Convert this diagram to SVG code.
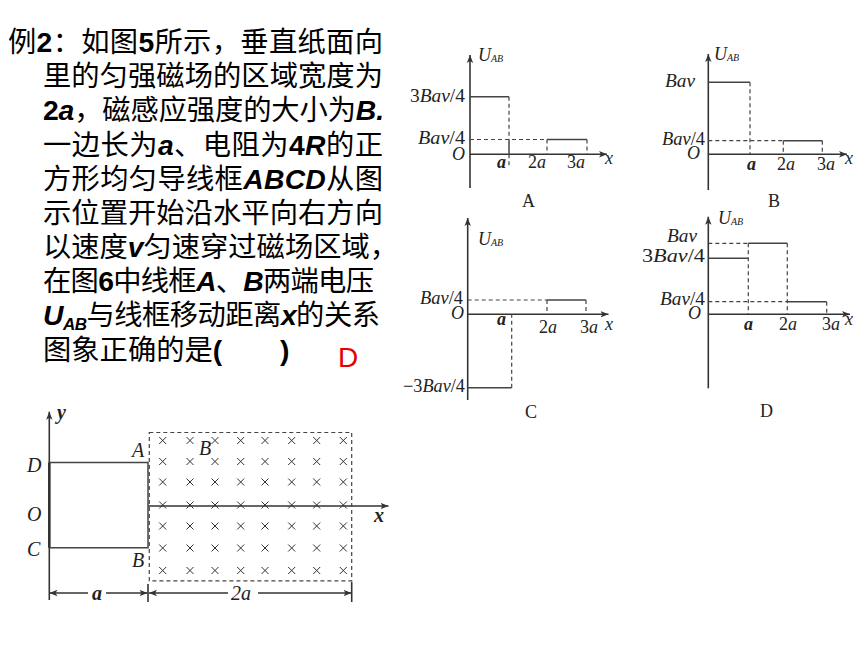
<svg xmlns="http://www.w3.org/2000/svg" xmlns:xlink="http://www.w3.org/1999/xlink" width="860" height="645" viewBox="0 0 860 645">
<style>
.t{font-family:"Noto Sans CJK SC","Liberation Sans",sans-serif;font-size:28.3px;fill:#000}
.l{font-family:"Liberation Sans",sans-serif;font-weight:bold}
.li{font-family:"Liberation Sans",sans-serif;font-weight:bold;font-style:italic}
.ax{stroke:#333;stroke-width:1.6;fill:none}
.so{stroke:#444;stroke-width:1.5;fill:none}
.da{stroke:#444;stroke-width:1.2;fill:none;stroke-dasharray:4 3}
.lb{font-family:"Liberation Serif",serif;font-size:18px;fill:#222}
.it{font-style:italic}
.sub{font-size:10px;font-style:italic}
.cap{font-family:"Liberation Serif",serif;font-size:18px;fill:#222}
.fl{font-family:"Liberation Serif",serif;font-size:20px;font-style:italic;fill:#222}
.cr{stroke:#333;stroke-width:1;fill:none}
</style>
<defs>
<marker id="ah" viewBox="0 0 10 10" refX="10" refY="5" markerWidth="8" markerHeight="8" markerUnits="userSpaceOnUse" orient="auto-start-reverse"><path d="M0,1 L10,5 L0,9 L2.5,5 z" fill="#333"/></marker>
<path id="cr" class="cr" d="M-3.5,-3.5L3.5,3.5M-3.5,3.5L3.5,-3.5"/>
</defs>
<rect width="860" height="645" fill="#fff"/>

<g id="question">
<text class="t" x="8" y="52" textLength="375">例<tspan class="l">2</tspan>：如图<tspan class="l">5</tspan>所示，垂直纸面向</text>
<text class="t" x="43" y="86" textLength="340">里的匀强磁场的区域宽度为</text>
<text class="t" x="43" y="120" textLength="341"><tspan class="l">2</tspan><tspan class="li">a</tspan>，磁感应强度的大小为<tspan class="li">B.</tspan></text>
<text class="t" x="43" y="155" textLength="340">一边长为<tspan class="li">a</tspan>、电阻为<tspan class="l">4</tspan><tspan class="li">R</tspan>的正</text>
<text class="t" x="43" y="189" textLength="340">方形均匀导线框<tspan class="li">ABCD</tspan>从图</text>
<text class="t" x="43" y="223" textLength="340">示位置开始沿水平向右方向</text>
<text class="t" x="43" y="257" textLength="355">以速度<tspan class="li">v</tspan>匀速穿过磁场区域，</text>
<text class="t" x="43" y="291" textLength="331">在图<tspan class="l">6</tspan>中线框<tspan class="li">A</tspan>、<tspan class="li">B</tspan>两端电压</text>
<text class="t" x="43" y="325" textLength="337"><tspan class="li">U</tspan><tspan class="li" font-size="17" dy="5">AB</tspan><tspan dy="-5">与线框移动距离</tspan><tspan class="li">x</tspan>的关系</text>
<text class="t" x="43" y="360">图象正确的是<tspan class="l">(</tspan><tspan class="l" x="280">)</tspan></text>
<text x="338" y="367" font-family="Liberation Sans, sans-serif" font-size="28" fill="#e60000">D</text>
</g>

<g id="graph-A">
<line class="ax" x1="470" y1="188" x2="470" y2="55" marker-end="url(#ah)"/>
<line class="ax" x1="470" y1="154.3" x2="607" y2="154.3" marker-end="url(#ah)"/>
<line class="so" x1="470" y1="96.7" x2="509" y2="96.7"/>
<line class="da" x1="509" y1="96.7" x2="509" y2="139.5"/>
<line class="so" x1="509" y1="139.5" x2="509" y2="154.3"/>
<line class="da" x1="509" y1="154.3" x2="509" y2="168"/>
<line class="da" x1="470" y1="139.5" x2="547" y2="139.5"/>
<line class="so" x1="547" y1="139.5" x2="587" y2="139.5"/>
<line class="da" x1="547" y1="139.5" x2="547" y2="154.3"/>
<line class="da" x1="587" y1="139.5" x2="587" y2="154.3"/>
<text class="lb it" x="478" y="61" font-size="16">U<tspan class="sub" dy="1">AB</tspan></text>
<text class="lb" x="410" y="102" textLength="55" lengthAdjust="spacingAndGlyphs">3<tspan class="it">Bav</tspan>/4</text>
<text class="lb" x="418" y="144" textLength="47" lengthAdjust="spacingAndGlyphs"><tspan class="it">Bav</tspan>/4</text>
<text class="lb it" x="452" y="160">O</text>
<text class="lb it" x="497" y="168" font-weight="bold">a</text>
<text class="lb" x="528" y="168">2<tspan class="it">a</tspan></text>
<text class="lb" x="567" y="168">3<tspan class="it">a</tspan></text>
<text class="lb it" x="605" y="164">x</text>
<text class="cap" x="522" y="207">A</text>
</g>

<g id="graph-B">
<line class="ax" x1="708.3" y1="190" x2="708.3" y2="54" marker-end="url(#ah)"/>
<line class="ax" x1="708.3" y1="154.3" x2="847" y2="154.3" marker-end="url(#ah)"/>
<line class="so" x1="708.3" y1="82.3" x2="750" y2="82.3"/>
<line class="da" x1="750" y1="82.3" x2="750" y2="154.3"/>
<line class="da" x1="708.3" y1="140.7" x2="783.3" y2="140.7"/>
<line class="so" x1="783.3" y1="140.7" x2="822.3" y2="140.7"/>
<line class="da" x1="783.3" y1="140.7" x2="783.3" y2="154.3"/>
<line class="da" x1="822.3" y1="140.7" x2="822.3" y2="154.3"/>
<text class="lb it" x="714" y="60" font-size="16">U<tspan class="sub" dy="1">AB</tspan></text>
<text class="lb it" x="665" y="87" textLength="30" lengthAdjust="spacingAndGlyphs">Bav</text>
<text class="lb" x="662" y="145" textLength="43" lengthAdjust="spacingAndGlyphs"><tspan class="it">Bav</tspan>/4</text>
<text class="lb it" x="687" y="159">O</text>
<text class="lb it" x="747" y="170" font-weight="bold">a</text>
<text class="lb" x="777" y="170">2<tspan class="it">a</tspan></text>
<text class="lb" x="817" y="170">3<tspan class="it">a</tspan></text>
<text class="lb it" x="845" y="164">x</text>
<text class="cap" x="768" y="207">B</text>
</g>

<g id="graph-C">
<line class="ax" x1="467.7" y1="400" x2="467.7" y2="218" marker-end="url(#ah)"/>
<line class="ax" x1="467.7" y1="314.3" x2="608.5" y2="314.3" marker-end="url(#ah)"/>
<line class="so" x1="467.7" y1="387.7" x2="511.7" y2="387.7"/>
<line class="da" x1="511.7" y1="387.7" x2="511.7" y2="314.3"/>
<line class="da" x1="467.7" y1="300" x2="547" y2="300"/>
<line class="so" x1="547" y1="300" x2="586" y2="300"/>
<line class="da" x1="547" y1="300" x2="547" y2="314.3"/>
<line class="da" x1="586" y1="300" x2="586" y2="314.3"/>
<text class="lb it" x="478" y="245" font-size="16">U<tspan class="sub" dy="1">AB</tspan></text>
<text class="lb" x="420" y="304" textLength="43" lengthAdjust="spacingAndGlyphs"><tspan class="it">Bav</tspan>/4</text>
<text class="lb it" x="451" y="319">O</text>
<text class="lb it" x="497" y="325" font-weight="bold">a</text>
<text class="lb" x="539" y="333">2<tspan class="it">a</tspan></text>
<text class="lb" x="580" y="333">3<tspan class="it">a</tspan></text>
<text class="lb it" x="605" y="330">x</text>
<text class="lb" x="403" y="392" textLength="62" lengthAdjust="spacingAndGlyphs">−3<tspan class="it">Bav</tspan>/4</text>
<text class="cap" x="525" y="418">C</text>
</g>

<g id="graph-D">
<line class="ax" x1="708.3" y1="388.3" x2="708.3" y2="216.7" marker-end="url(#ah)"/>
<line class="ax" x1="708.3" y1="314.3" x2="850" y2="314.3" marker-end="url(#ah)"/>
<line class="so" x1="708.3" y1="258.3" x2="748.3" y2="258.3"/>
<line class="da" x1="708.3" y1="243.3" x2="748.3" y2="243.3"/>
<line class="so" x1="748.3" y1="243.3" x2="787.3" y2="243.3"/>
<line class="da" x1="748.3" y1="243.3" x2="748.3" y2="314.3"/>
<line class="da" x1="787.3" y1="243.3" x2="787.3" y2="314.3"/>
<line class="da" x1="708.3" y1="301.7" x2="787.3" y2="301.7"/>
<line class="so" x1="787.3" y1="301.7" x2="826.7" y2="301.7"/>
<line class="da" x1="826.7" y1="301.7" x2="826.7" y2="314.3"/>
<text class="lb it" x="718" y="224" font-size="16">U<tspan class="sub" dy="1">AB</tspan></text>
<text class="lb it" x="667" y="242" textLength="30" lengthAdjust="spacingAndGlyphs">Bav</text>
<text class="lb" x="642" y="262" textLength="63" lengthAdjust="spacingAndGlyphs">3<tspan class="it">Bav</tspan>/4</text>
<text class="lb" x="660" y="305" textLength="45" lengthAdjust="spacingAndGlyphs"><tspan class="it">Bav</tspan>/4</text>
<text class="lb it" x="688" y="319">O</text>
<text class="lb it" x="744" y="330" font-weight="bold">a</text>
<text class="lb" x="779" y="330">2<tspan class="it">a</tspan></text>
<text class="lb" x="822" y="330">3<tspan class="it">a</tspan></text>
<text class="lb it" x="845" y="325">x</text>
<text class="cap" x="760" y="417">D</text>
</g>

<g id="figure-5">
<line class="ax" x1="49.3" y1="600" x2="49.3" y2="411.7" marker-end="url(#ah)"/>
<line class="ax" x1="148" y1="506" x2="388.5" y2="506" marker-end="url(#ah)"/>
<rect class="da" x="149.3" y="432.5" width="202.4" height="148.3"/>
<g id="frame-ABCD">
<polyline class="so" points="49.3,462.5 148,462.5 148,547.7 49.3,547.7"/>
<line x1="49.3" y1="462.5" x2="49.3" y2="547.7" stroke="#333" stroke-width="2.6"/>
</g>
<g id="field">
<use xlink:href="#cr" x="162.7" y="440.5"/><use xlink:href="#cr" x="190" y="440.5"/><use xlink:href="#cr" x="215" y="440.5"/><use xlink:href="#cr" x="240.7" y="440.5"/><use xlink:href="#cr" x="265" y="440.5"/><use xlink:href="#cr" x="291.7" y="440.5"/><use xlink:href="#cr" x="316.7" y="440.5"/><use xlink:href="#cr" x="343.3" y="440.5"/>
<use xlink:href="#cr" x="162.7" y="461.5"/><use xlink:href="#cr" x="190" y="461.5"/><use xlink:href="#cr" x="215" y="461.5"/><use xlink:href="#cr" x="240.7" y="461.5"/><use xlink:href="#cr" x="265" y="461.5"/><use xlink:href="#cr" x="291.7" y="461.5"/><use xlink:href="#cr" x="316.7" y="461.5"/><use xlink:href="#cr" x="343.3" y="461.5"/>
<use xlink:href="#cr" x="162.7" y="482"/><use xlink:href="#cr" x="190" y="482"/><use xlink:href="#cr" x="215" y="482"/><use xlink:href="#cr" x="240.7" y="482"/><use xlink:href="#cr" x="265" y="482"/><use xlink:href="#cr" x="291.7" y="482"/><use xlink:href="#cr" x="316.7" y="482"/><use xlink:href="#cr" x="343.3" y="482"/>
<use xlink:href="#cr" x="162.7" y="505"/><use xlink:href="#cr" x="190" y="505"/><use xlink:href="#cr" x="215" y="505"/><use xlink:href="#cr" x="240.7" y="505"/><use xlink:href="#cr" x="265" y="505"/><use xlink:href="#cr" x="291.7" y="505"/><use xlink:href="#cr" x="316.7" y="505"/><use xlink:href="#cr" x="343.3" y="505"/>
<use xlink:href="#cr" x="162.7" y="526"/><use xlink:href="#cr" x="190" y="526"/><use xlink:href="#cr" x="215" y="526"/><use xlink:href="#cr" x="240.7" y="526"/><use xlink:href="#cr" x="265" y="526"/><use xlink:href="#cr" x="291.7" y="526"/><use xlink:href="#cr" x="316.7" y="526"/><use xlink:href="#cr" x="343.3" y="526"/>
<use xlink:href="#cr" x="162.7" y="548"/><use xlink:href="#cr" x="190" y="548"/><use xlink:href="#cr" x="215" y="548"/><use xlink:href="#cr" x="240.7" y="548"/><use xlink:href="#cr" x="265" y="548"/><use xlink:href="#cr" x="291.7" y="548"/><use xlink:href="#cr" x="316.7" y="548"/><use xlink:href="#cr" x="343.3" y="548"/>
<use xlink:href="#cr" x="162.7" y="570.5"/><use xlink:href="#cr" x="190" y="570.5"/><use xlink:href="#cr" x="215" y="570.5"/><use xlink:href="#cr" x="240.7" y="570.5"/><use xlink:href="#cr" x="265" y="570.5"/><use xlink:href="#cr" x="291.7" y="570.5"/><use xlink:href="#cr" x="316.7" y="570.5"/><use xlink:href="#cr" x="343.3" y="570.5"/>
</g>
<g id="dimensions">
<line class="ax" x1="148" y1="584" x2="148" y2="602"/>
<line class="ax" x1="351.7" y1="582" x2="351.7" y2="602"/>
<line class="ax" x1="88" y1="593" x2="49.5" y2="593" marker-end="url(#ah)"/>
<line class="ax" x1="106" y1="593" x2="147.5" y2="593" marker-end="url(#ah)"/>
<line class="ax" x1="228" y1="593" x2="149" y2="593" marker-end="url(#ah)"/>
<line class="ax" x1="258" y1="593" x2="351.5" y2="593" marker-end="url(#ah)"/>
</g>
<text class="fl" x="57" y="419" font-size="18" font-weight="bold">y</text>
<text class="fl" x="374" y="522" font-size="18" font-weight="bold">x</text>
<text class="fl" x="27" y="472">D</text>
<text class="fl" x="27" y="521">O</text>
<text class="fl" x="27" y="556">C</text>
<text class="fl" x="132" y="457">A</text>
<text class="fl" x="132" y="567">B</text>
<text class="fl" x="199" y="455">B</text>
<text class="fl" x="92" y="600" font-weight="bold">a</text>
<text class="fl" x="231" y="600" font-style="normal">2<tspan font-style="italic">a</tspan></text>
</g>
</svg>
